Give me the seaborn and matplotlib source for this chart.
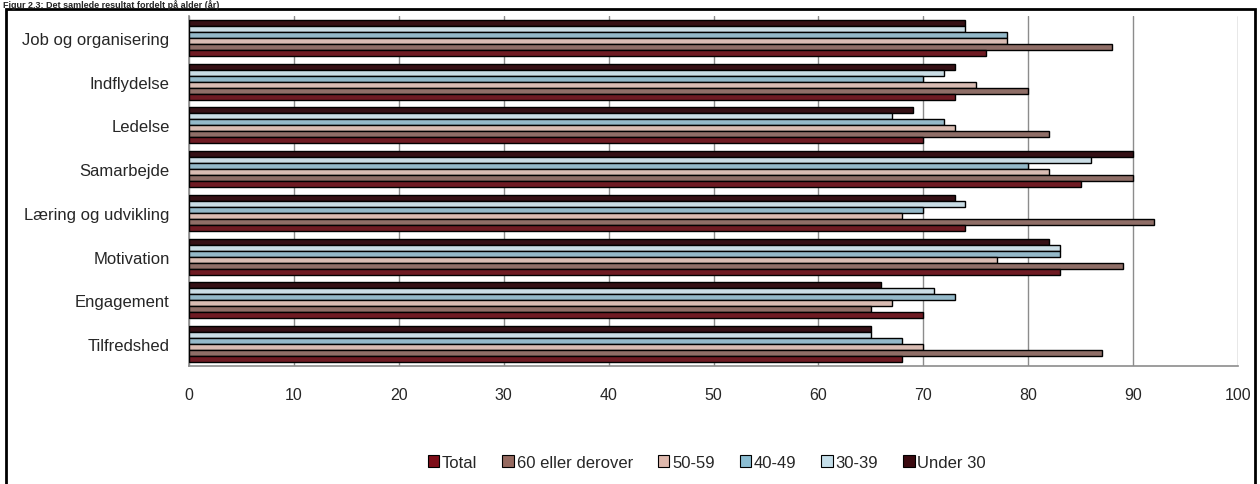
import matplotlib
matplotlib.use("Agg")
import matplotlib.pyplot as plt
from matplotlib.patches import Patch, Rectangle
import seaborn as sns
import pandas as pd

# Survey dimensions (top to bottom) and age groups
categories = ["Job og organisering", "Indflydelse", "Ledelse", "Samarbejde",
              "Læring og udvikling", "Motivation", "Engagement", "Tilfredshed"]
groups = ["Under 30", "30-39", "40-49", "50-59", "60 eller derover", "Total"]

under_30 = [74, 73, 69, 90, 73, 82, 66, 65]
age_30_39 = [74, 72, 67, 86, 74, 83, 71, 65]
age_40_49 = [78, 70, 72, 80, 70, 83, 73, 68]
age_50_59 = [78, 75, 73, 82, 68, 77, 67, 70]
age_60_plus = [88, 80, 82, 90, 92, 89, 65, 87]
total = [76, 73, 70, 85, 74, 83, 70, 68]

x_ticks = [0, 10, 20, 30, 40, 50, 60, 70, 80, 90, 100]

colors = {
    "Under 30": "#3b0a10",
    "30-39": "#c5dfea",
    "40-49": "#8bbdd2",
    "50-59": "#dfb9ad",
    "60 eller derover": "#966a60",
    "Total": "#7d0d18",
}

series = [under_30, age_30_39, age_40_49, age_50_59, age_60_plus, total]
rows = []
for g, vals in zip(groups, series):
    for c, v in zip(categories, vals):
        rows.append({"Kategori": c, "Alder": g, "Score": v})
df = pd.DataFrame(rows)

sns.set_theme(style="white")
plt.rcParams["font.family"] = ["Liberation Sans", "DejaVu Sans"]

fig = plt.figure(figsize=(12.6, 4.85), dpi=100)
ax = fig.add_axes([189 / 1260, 1 - 367 / 485, (1238 - 189) / 1260, 350 / 485])

sns.barplot(data=df, y="Kategori", x="Score", hue="Alder", order=categories,
            hue_order=groups, palette=colors, orient="h", width=0.82,
            edgecolor="black", linewidth=1.0, errorbar=None, legend=False, ax=ax,
            zorder=3)

ax.set_xlim(0, 100)
ax.set_xticks(x_ticks)
ax.set_xlabel("")
ax.set_ylabel("")
ax.xaxis.grid(True, color="#8c8c8c", linewidth=1.0, zorder=0)
ax.yaxis.grid(False)
ax.set_axisbelow(True)

for s in ["top", "right"]:
    ax.spines[s].set_visible(False)
for s in ["left", "bottom"]:
    ax.spines[s].set_color("#8c8c8c")
    ax.spines[s].set_linewidth(1.2)

# Category separators as ticks on the y axis
ax.set_yticks(range(len(categories)))
ax.set_yticklabels(categories, fontsize=12)
ax.set_yticks([i - 0.5 for i in range(len(categories) + 1)], minor=True)
ax.tick_params(axis="y", which="major", length=0, pad=14)
ax.tick_params(axis="y", which="minor", length=8, direction="inout",
               color="#8c8c8c", width=1.2)
ax.tick_params(axis="x", which="major", length=6, direction="inout",
               color="#8c8c8c", width=1.2, pad=12, labelsize=11.5)

# Legend (reverse order of the bars)
handles = [Patch(facecolor=colors[g], edgecolor="black", linewidth=0.8)
           for g in groups[::-1]]
fig.legend(handles, groups[::-1], loc="center", bbox_to_anchor=(0.561, 1 - 463 / 485),
           ncol=6, frameon=False, fontsize=12, handlelength=0.7,
           handleheight=0.7, handletextpad=0.15, columnspacing=1.5)

# Outer frame and heading
fig.patches.append(Rectangle((6 / 1260, -0.05), (1255 - 6) / 1260, 1.05 - 10 / 485,
                             transform=fig.transFigure, fill=False,
                             edgecolor="black", linewidth=2))
fig.text(3 / 1260, 1 - 0.5 / 485, "Figur 2.3: Det samlede resultat fordelt på alder (år)",
         fontsize=6.5, fontweight="bold", va="top", ha="left")

fig.savefig("out.png", dpi=100)
